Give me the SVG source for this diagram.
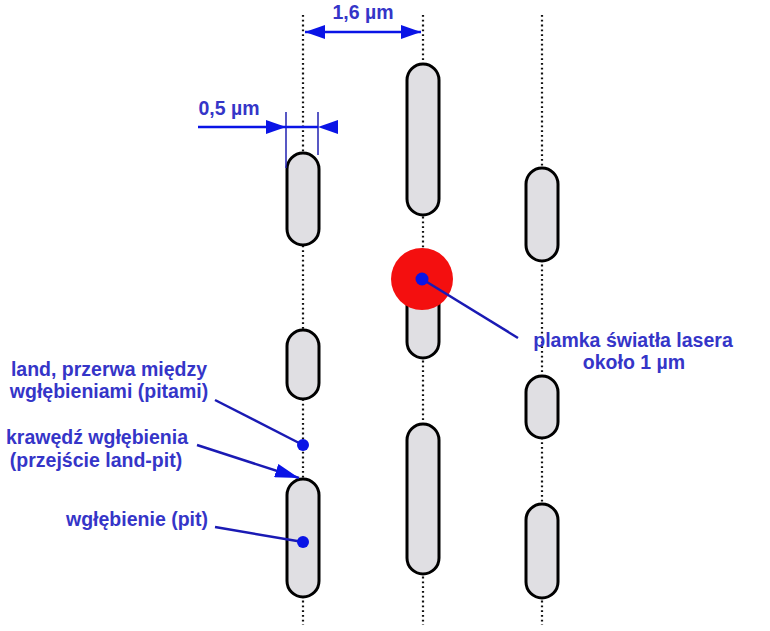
<svg xmlns="http://www.w3.org/2000/svg" width="770" height="631" viewBox="0 0 770 631">
<style>
.track{stroke:#111;stroke-width:2.2;stroke-dasharray:1.8 3;fill:none}
.pit{fill:#e0dfe3;stroke:#000;stroke-width:3}
.lbl{font-family:"Liberation Sans",Arial,sans-serif;font-weight:bold;font-size:19.5px;fill:#3535c8}
.dim{stroke:#0a14e6;stroke-width:2.5;fill:none}
.thin{stroke:#2020b0;stroke-width:1.5;fill:none}
.lead{stroke:#1a1ab4;stroke-width:2.5;fill:none}
.dot{fill:#0a14e6}
</style>
<defs>
<marker id="ah" viewBox="0 0 20 14" refX="20" refY="7" markerWidth="20" markerHeight="14" markerUnits="userSpaceOnUse" orient="auto-start-reverse">
<path d="M0,0 L20,7 L0,14 Z" fill="#0a14e6"/>
</marker>
<marker id="ahL" viewBox="0 0 24 14" refX="24" refY="7" markerWidth="24" markerHeight="14" markerUnits="userSpaceOnUse" orient="auto">
<path d="M0,0 L24,7 L0,14 Z" fill="#0a14e6"/>
</marker>
</defs>
<g id="tracks">
<line class="track" x1="303" y1="15" x2="303" y2="625"/>
<line class="track" x1="423" y1="15" x2="423" y2="625"/>
<line class="track" x1="542" y1="15" x2="542" y2="625"/>
</g>
<g id="pits">
<rect id="pitA" class="pit" x="287" y="153" width="32" height="92" rx="16"/>
<rect id="pitB" class="pit" x="287" y="330" width="32" height="69" rx="16"/>
<rect id="pitC" class="pit" x="287" y="479" width="32" height="118" rx="16"/>
<rect id="pitD" class="pit" x="407" y="64" width="32" height="151" rx="16"/>
<rect id="pitE" class="pit" x="407" y="285" width="32" height="73" rx="16"/>
<rect id="pitF" class="pit" x="407" y="424" width="32" height="150" rx="16"/>
<rect id="pitG" class="pit" x="526" y="168" width="32" height="93" rx="16"/>
<rect id="pitH" class="pit" x="526" y="376" width="32" height="62" rx="16"/>
<rect id="pitI" class="pit" x="526" y="504" width="32" height="94" rx="16"/>
</g>
<g id="laser">
<circle cx="422" cy="279" r="31" fill="#f40f0f"/>
</g>
<g id="connectors">
<line class="dim" x1="305" y1="32" x2="421" y2="32" marker-start="url(#ah)" marker-end="url(#ah)"/>
<line class="thin" x1="286" y1="112" x2="286" y2="168"/>
<line class="thin" x1="318" y1="112" x2="318" y2="155"/>
<line class="dim" x1="198" y1="127" x2="286" y2="127" marker-end="url(#ah)"/>
<line class="dim" x1="286" y1="127" x2="318" y2="127"/>
<path d="M318,127 L338,120 L338,134 Z" fill="#0a14e6"/>
<line class="lead" x1="215" y1="400" x2="303" y2="445"/>
<circle class="dot" cx="303" cy="445" r="6"/>
<line class="lead" x1="197" y1="445" x2="299" y2="478" marker-end="url(#ahL)"/>
<line class="lead" x1="215" y1="527" x2="303" y2="542"/>
<circle class="dot" cx="303" cy="542" r="6"/>
<line class="lead" x1="422" y1="279" x2="518" y2="338"/>
<circle class="dot" cx="422" cy="279" r="6.5"/>
</g>
<g id="labels">
<text class="lbl" x="363" y="19" text-anchor="middle">1,6 µm</text>
<text class="lbl" x="229" y="115" text-anchor="middle">0,5 µm</text>
<text class="lbl" x="109" y="376" text-anchor="middle">land, przerwa między</text>
<text class="lbl" x="109" y="398" text-anchor="middle">wgłębieniami (pitami)</text>
<text class="lbl" x="97" y="444" text-anchor="middle">krawędź wgłębienia</text>
<text class="lbl" x="96" y="467" text-anchor="middle">(przejście land-pit)</text>
<text class="lbl" x="137" y="526" text-anchor="middle">wgłębienie (pit)</text>
<text class="lbl" x="633" y="347" text-anchor="middle">plamka światła lasera</text>
<text class="lbl" x="634" y="369" text-anchor="middle">około 1 µm</text>
</g>
</svg>
